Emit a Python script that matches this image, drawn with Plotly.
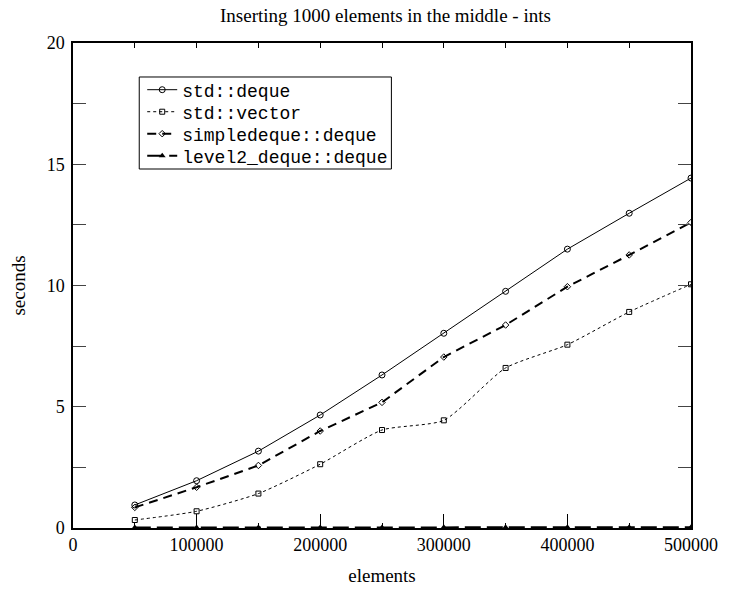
import plotly.graph_objects as go

elements = [50000, 100000, 150000, 200000, 250000, 300000, 350000, 400000, 450000, 500000]
std_deque = [0.95, 1.95, 3.17, 4.66, 6.31, 8.03, 9.76, 11.5, 12.98, 14.43]
std_vector = [0.33, 0.69, 1.42, 2.63, 4.04, 4.44, 6.6, 7.56, 8.91, 10.05]
simple_deque = [0.85, 1.68, 2.58, 4.0, 5.18, 7.05, 8.37, 9.95, 11.26, 12.6]
level2_deque = [0.02, 0.02, 0.02, 0.02, 0.02, 0.03, 0.03, 0.03, 0.03, 0.03]

serif = "Liberation Serif"
mono = "Liberation Mono"

fig = go.Figure()
fig.add_trace(go.Scatter(
    x=elements, y=std_deque, name="std::deque", mode="lines+markers", legend="legend",
    line=dict(color="black", width=1),
    marker=dict(symbol="circle-open", size=6, color="black", line=dict(width=1))))
fig.add_trace(go.Scatter(
    x=elements, y=std_vector, name="std::vector", mode="lines+markers", legend="legend2",
    line=dict(color="black", width=1, dash="dot", shape="spline", smoothing=0.6),
    marker=dict(symbol="square-open", size=5, color="black", line=dict(width=1))))
fig.add_trace(go.Scatter(
    x=elements, y=simple_deque, name="simpledeque::deque", mode="lines+markers", legend="legend3",
    line=dict(color="black", width=2, dash="9px,6px"),
    marker=dict(symbol="diamond-open", size=5, color="black", line=dict(width=1))))
fig.add_trace(go.Scatter(
    x=elements, y=level2_deque, name="level2_deque::deque", mode="lines+markers", legend="legend4",
    line=dict(color="black", width=2, dash="16px,6px"),
    marker=dict(symbol="triangle-up", size=6, color="black")))
# invisible trace to activate top axis
fig.add_trace(go.Scatter(x=[0, 500000], y=[0, 0], xaxis="x2", mode="lines",
                         line=dict(width=0), showlegend=False, hoverinfo="skip"))

def leg(ypos):
    return dict(x=0.112, y=ypos, xanchor="left", yanchor="middle",
                bgcolor="rgba(0,0,0,0)", borderwidth=0,
                font=dict(family=mono, size=18, color="black"),
                itemwidth=30, tracegroupgap=0)

fig.update_layout(
    width=730, height=596,
    margin=dict(l=73, r=32, t=43, b=68),
    paper_bgcolor="white", plot_bgcolor="white",
    title=dict(text="Inserting 1000 elements in the middle - ints",
               x=0.528, xanchor="center", y=0.975, yanchor="middle",
               font=dict(family=serif, size=19, color="black")),
    showlegend=True,
    legend=leg(0.9031), legend2=leg(0.8577), legend3=leg(0.8124), legend4=leg(0.7670),
    shapes=[dict(type="rect", xref="paper", yref="paper",
                 x0=0.1072, x1=0.5152, y0=0.7402, y1=0.9299,
                 line=dict(color="black", width=1), fillcolor="white", layer="below")],
    xaxis=dict(range=[0, 500000], tickmode="linear", tick0=0, dtick=100000,
               ticks="inside", ticklen=14, tickwidth=1, tickcolor="black",
               showline=True, linecolor="black", linewidth=1.5, mirror=True,
               showgrid=False, zeroline=False, tickformat="d",
               minor=dict(ticks="inside", dtick=50000, ticklen=5, tickcolor="black"),
               tickfont=dict(family=serif, size=18, color="black"),
               title=dict(text="elements", font=dict(family=serif, size=19, color="black"),
                          standoff=14)),
    xaxis2=dict(range=[0, 500000], overlaying="x", side="top", tickmode="linear",
                tick0=0, dtick=50000, ticks="inside", ticklen=5, tickcolor="black",
                showticklabels=False, showgrid=False, zeroline=False, showline=False),
    yaxis=dict(range=[0, 20], tickmode="linear", tick0=0, dtick=5,
               ticks="inside", ticklen=13, tickwidth=1, tickcolor="#444",
               showline=True, linecolor="black", linewidth=1.5, mirror="allticks",
               showgrid=False, zeroline=False, ticklabelstandoff=3,
               minor=dict(ticks="inside", dtick=2.5, ticklen=6, tickcolor="#444"),
               tickfont=dict(family=serif, size=18, color="black"),
               title=dict(text="seconds", font=dict(family=serif, size=19, color="black"),
                          standoff=16)),
)

fig.write_html("out.html")
